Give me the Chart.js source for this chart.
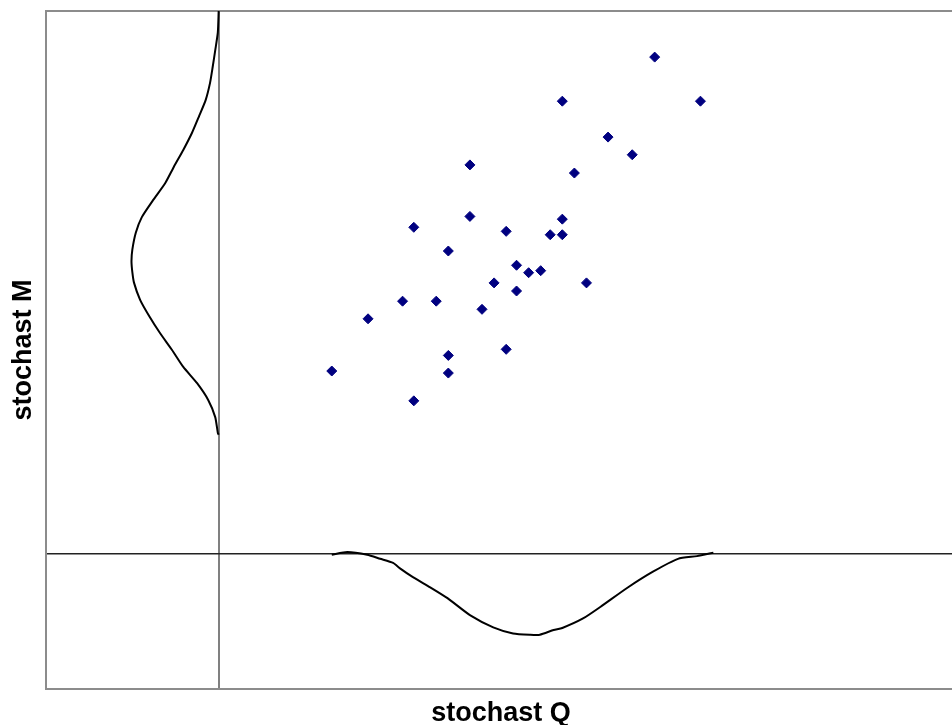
<!DOCTYPE html>
<html>
<head>
<meta charset="utf-8">
<script src="https://cdn.jsdelivr.net/npm/chart.js@4/dist/chart.umd.min.js"></script>
<style>
html, body { margin: 0; padding: 0; overflow: hidden; background: #ffffff; }
canvas { display: block; }
</style>
</head>
<body>
<canvas id="c" width="962" height="725"></canvas>
<script>
// Scatter sample values (stochast Q, stochast M)
const qValues = [5.05, 3.98, 5.58, 4.51, 4.79, 2.91, 4.12, 2.91, 2.26, 3.98, 3.33, 3.84, 3.98, 2.66, 3.45, 3.59, 3.73, 3.19, 4.26, 3.45, 2.13, 2.52, 3.05, 1.73, 3.33, 2.66, 1.31, 2.66, 2.26];
const mValues = [7.32, 6.67, 6.67, 6.14, 5.88, 5.73, 5.61, 4.97, 4.81, 4.93, 4.75, 4.70, 4.70, 4.46, 4.25, 4.14, 4.17, 3.99, 3.99, 3.87, 3.72, 3.72, 3.60, 3.46, 3.01, 2.92, 2.69, 2.66, 2.25];

// Density curve of M (drawn to the left of the vertical axis)
const mCurveY = [8.0, 7.68, 7.42, 7.17, 6.94, 6.69, 6.44, 6.20, 5.95, 5.70, 5.46, 5.21, 4.96, 4.73, 4.48, 4.31, 4.15, 3.99, 3.74, 3.49, 3.25, 3.00, 2.75, 2.51, 2.26, 2.01, 1.78, 1.75];
const mCurveDensity = [0, -0.01, -0.04, -0.07, -0.10, -0.15, -0.23, -0.31, -0.41, -0.52, -0.62, -0.76, -0.89, -0.96, -1.00, -1.01, -1.00, -0.98, -0.91, -0.80, -0.68, -0.54, -0.41, -0.25, -0.12, -0.04, -0.01, 0];

// Density curve of Q (drawn below the horizontal axis)
const qCurveX = [1.31, 1.49, 1.72, 1.87, 2.02, 2.10, 2.25, 2.45, 2.65, 2.91, 3.18, 3.41, 3.61, 3.72, 3.88, 3.98, 4.22, 4.42, 4.73, 5.03, 5.32, 5.54, 5.73];
const qCurveDensity = [-0.02, 0.02, -0.02, -0.08, -0.14, -0.22, -0.35, -0.50, -0.66, -0.91, -1.09, -1.18, -1.20, -1.20, -1.13, -1.10, -0.96, -0.79, -0.51, -0.27, -0.08, -0.04, 0.01];

// Axis ranges and titles
const xRange = [-2, 8.54];
const yRange = [-2, 8];
const xTitle = 'stochast Q';
const yTitle = 'stochast M';

const points = qValues.map((q, i) => ({ x: q, y: mValues[i] }));
const mCurve = mCurveY.map((y, i) => ({ x: mCurveDensity[i], y: y }));
const qCurve = qCurveX.map((x, i) => ({ x: x, y: qCurveDensity[i] }));

const titleFont = { family: "'Liberation Sans', Arial, sans-serif", size: 27, weight: 'bold', lineHeight: 1.2 };
const frameColor = '#8c8c8c';

new Chart(document.getElementById('c'), {
  type: 'scatter',
  data: {
    datasets: [
      {
        data: mCurve, showLine: true, borderColor: '#000000', borderWidth: 2,
        pointRadius: 0, tension: 0.2, fill: false
      },
      {
        data: qCurve, showLine: true, borderColor: '#000000', borderWidth: 2,
        pointRadius: 0, tension: 0.2, fill: false
      },
      {
        data: points, showLine: false, pointStyle: 'rectRot', pointRadius: 5,
        backgroundColor: '#000080', borderColor: '#000080', borderWidth: 1
      }
    ]
  },
  options: {
    responsive: false,
    animation: false,
    devicePixelRatio: 1,
    layout: { padding: { top: 11, right: 0, bottom: 0, left: 0 } },
    plugins: { legend: { display: false }, tooltip: { enabled: false } },
    scales: {
      x: {
        type: 'linear', position: 'bottom', min: xRange[0], max: xRange[1],
        afterBuildTicks: s => { s.ticks = [{ value: 0 }]; },
        ticks: { display: false },
        grid: { color: '#808080', lineWidth: 2, drawTicks: false, tickLength: 0 },
        border: { display: true, color: frameColor, width: 2 },
        title: { display: true, text: xTitle, color: '#000000', font: titleFont, padding: { top: 8.6, bottom: -5 } }
      },
      x2: {
        type: 'linear', position: 'top', min: xRange[0], max: xRange[1],
        ticks: { display: false },
        grid: { display: false, drawTicks: false, tickLength: 0 },
        border: { display: true, color: frameColor, width: 2 }
      },
      y: {
        type: 'linear', position: 'left', min: yRange[0], max: yRange[1],
        afterBuildTicks: s => { s.ticks = [{ value: 0 }]; },
        ticks: { display: false },
        grid: { color: '#222222', lineWidth: 1.5, drawTicks: false, tickLength: 0 },
        border: { display: true, color: frameColor, width: 2 },
        title: { display: true, text: yTitle, color: '#000000', font: titleFont, padding: { top: 7.1, bottom: 6.5 } }
      }
    }
  }
});
</script>
</body>
</html>
